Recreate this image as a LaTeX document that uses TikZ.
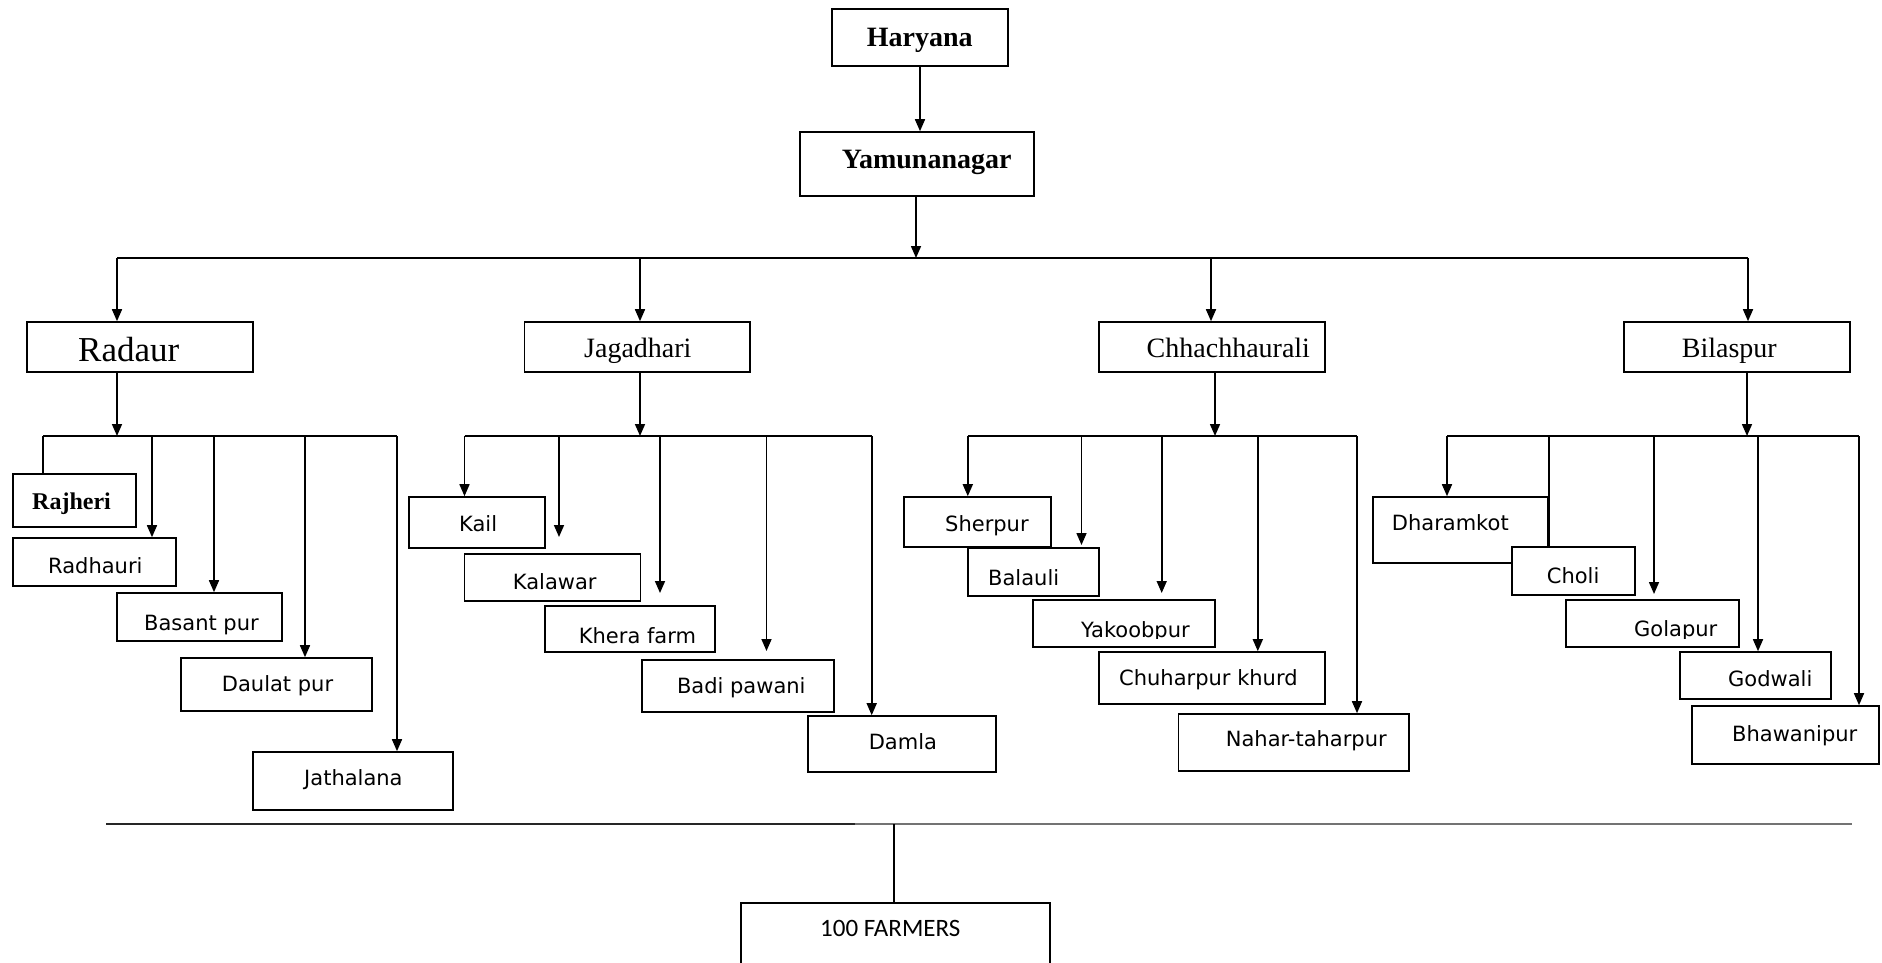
\documentclass[tikz,border=0pt]{standalone}
\usepackage{fontspec}
\setmainfont{Liberation Serif}
\newfontfamily\vsans{DejaVu Sans}
\newfontfamily\carl{Carlito}
\usetikzlibrary{arrows.meta}
\tikzset{
  ln/.style={line width=1.6pt},
  arr/.style={ln, -{Triangle[length=12pt,width=10pt]}},
  bx/.style={draw, line width=1.6pt, fill=white, inner sep=0pt, rectangle},
  dist/.style={anchor=base west, inner sep=0pt, font=\fontsize{28}{30}\selectfont},
  vil/.style={anchor=base west, inner sep=0pt, font=\vsans\fontsize{21}{24}\selectfont},
}
\newcommand\mkbox[5]{\node[bx, minimum width={(#4)-(#2)}, minimum height={(#5)-(#3)}] (#1) at ({((#2)+(#4))/2},{((#3)+(#5))/2}) {};}
\begin{document}
\begin{tikzpicture}[x=1pt,y=-1pt]
\useasboundingbox[fill=white] (0,0) rectangle (1882,962);
% ---------- boxes ----------
\mkbox{haryana}{832}{9}{1008}{66}
\mkbox{yamuna}{800}{132}{1034}{196}
\mkbox{radaur}{27}{322}{253}{372}
\mkbox{jagadhari}{524.5}{322}{750}{372}
\mkbox{chhach}{1099}{322}{1325}{372}
\mkbox{bilaspur}{1624}{322}{1850}{372}
% Radaur villages
\mkbox{rajheri}{13}{474}{136}{527}
\mkbox{radhauri}{13}{538}{176}{586}
\mkbox{basant}{117}{593}{282}{641}
\mkbox{daulat}{181}{658}{372}{711}
\mkbox{jathalana}{253}{752}{453}{810}
% Jagadhari villages
\mkbox{kail}{408.7}{497}{545}{548}
\mkbox{kalawar}{464.5}{554}{640.4}{601}
\mkbox{khera}{544.7}{606}{714.7}{652}
\mkbox{badi}{642}{660}{834}{712}
\mkbox{damla}{807.7}{716}{996}{772}
% Chhachhaurali villages
\mkbox{sherpur}{903.8}{497}{1051}{547}
\mkbox{balauli}{968}{548}{1099}{596}
\mkbox{yakoob}{1033}{600}{1215}{647}
\mkbox{chuhar}{1099}{652}{1325}{704}
\mkbox{nahar}{1178.6}{714}{1409}{771}
% Bilaspur villages
\mkbox{dharamkot}{1373}{497}{1548}{563}
\mkbox{choli}{1512}{547}{1635}{595}
\mkbox{golapur}{1566}{600}{1739}{647}
\mkbox{godwali}{1680}{652}{1831}{699}
\mkbox{bhawani}{1692}{706}{1879}{764}
% bottom
\mkbox{farmers}{741}{903}{1050}{975}
% ---------- texts ----------
\node[dist, font=\bfseries\fontsize{28}{30}\selectfont] (tharyana) at (866.7,46.7) {Haryana};
\node[dist, font=\bfseries\fontsize{28}{30}\selectfont] (tyamuna) at (841.7,168.3) {Yamunanagar};
\node[dist, font=\fontsize{35}{38}\selectfont] (tradaur) at (78,361.7) {Radaur};
\node[dist] (tjagadhari) at (584,357) {Jagadhari};
\node[dist] (tchhach) at (1146.5,357) {Chhachhaurali};
\node[dist] (tbilaspur) at (1681.7,357) {Bilaspur};
\node[dist, font=\bfseries\fontsize{24}{26}\selectfont] (trajheri) at (32,509) {Rajheri};
\node[vil] (tradhauri) at (48,573) {Radhauri};
\node[vil] (tbasant) at (144,630) {Basant pur};
\node[vil] (tdaulat) at (221.7,691.7) {Daulat pur};
\node[vil] (tjathalana) at (304,785.7) {Jathalana};
\node[vil] (tkail) at (459,531) {Kail};
\node[vil] (tkalawar) at (512.7,589) {Kalawar};
\node[vil] (tkhera) at (578.7,643.3) {Khera farm};
\node[vil] (tbadi) at (676.8,693) {Badi pawani};
\node[vil] (tdamla) at (868.6,749) {Damla};
\node[vil] (tsherpur) at (945,531) {Sherpur};
\node[vil] (tbalauli) at (988,585) {Balauli};
\begin{scope}
\clip (1033,600) rectangle (1215,638.5);
\node[vil] (tyakoob) at (1081,637.3) {Yakoobpur};
\end{scope}
\node[vil] (tchuhar) at (1119,685) {Chuharpur khurd};
\node[vil] (tnahar) at (1225.7,746.7) {Nahar-taharpur};
\node[vil] (tdharamkot) at (1391.7,530) {Dharamkot};
\node[vil] (tcholi) at (1546.7,583) {Choli};
\begin{scope}
\clip (1566,600) rectangle (1739,638);
\node[vil] (tgolapur) at (1634,636.7) {Golapur};
\end{scope}
\node[vil] (tgodwali) at (1728,686.7) {Godwali};
\node[vil] (tbhawani) at (1732,741.7) {Bhawanipur};
\node[anchor=base west, inner sep=0pt, font=\carl\fontsize{25}{28}\selectfont] (tfarmers) at (820,936) {100 FARMERS};
% ---------- top level ----------
\draw[arr] (haryana.south) -- (haryana.south |- yamuna.north);
\coordinate (tb0) at (117,258);
\coordinate (tb1) at (640,258);
\coordinate (tb2) at (1211,258);
\coordinate (tb3) at (1748,258);
\coordinate (tbm) at (916,258);
\draw[arr] (yamuna.south -| tbm) -- (tbm);
\draw[ln] (tb0) -- (tb3);
\draw[arr] (tb0) -- (tb0 |- radaur.north);
\draw[arr] (tb1) -- (tb1 |- jagadhari.north);
\draw[arr] (tb2) -- (tb2 |- chhach.north);
\draw[arr] (tb3) -- (tb3 |- bilaspur.north);
% ---------- Radaur ----------
\coordinate (ra) at (117,436);
\coordinate (r0) at (43,436);
\coordinate (r1) at (152,436);
\coordinate (r2) at (214,436);
\coordinate (r3) at (305,436);
\coordinate (r4) at (397,436);
\draw[arr] (radaur.south -| ra) -- (ra);
\draw[ln] (r0) -- (r4);
\draw[ln] (r0) -- (r0 |- rajheri.north);
\draw[arr] (r1) -- (r1 |- radhauri.north);
\draw[arr] (r2) -- (r2 |- basant.north);
\draw[arr] (r3) -- (r3 |- daulat.north);
\draw[arr] (r4) -- (r4 |- jathalana.north);
% ---------- Jagadhari ----------
\coordinate (ja) at (640,436);
\coordinate (j0) at (464.5,436);
\coordinate (j1) at (559,436);
\coordinate (j2) at (660,436);
\coordinate (j3) at (766.5,436);
\coordinate (j4) at (871.7,436);
\coordinate (j1t) at (559,537);
\coordinate (j2t) at (660,593);
\coordinate (j3t) at (766.5,651);
\draw[arr] (jagadhari.south -| ja) -- (ja);
\draw[ln] (j0) -- (j4);
\draw[arr] (j0) -- (j0 |- kail.north);
\draw[arr] (j1) -- (j1t);
\draw[arr] (j2) -- (j2t);
\draw[arr] (j3) -- (j3t);
\draw[arr] (j4) -- (j4 |- damla.north);
% ---------- Chhachhaurali ----------
\coordinate (ca) at (1215,436);
\coordinate (c0) at (967.8,436);
\coordinate (c1) at (1081.5,436);
\coordinate (c2) at (1161.7,436);
\coordinate (c3) at (1257.8,436);
\coordinate (c4) at (1357,436);
\coordinate (c1t) at (1081.5,545);
\coordinate (c2t) at (1161.7,593);
\draw[arr] (chhach.south -| ca) -- (ca);
\draw[ln] (c0) -- (c4);
\draw[arr] (c0) -- (c0 |- sherpur.north);
\draw[arr] (c1) -- (c1t);
\draw[arr] (c2) -- (c2t);
\draw[arr] (c3) -- (c3 |- chuhar.north);
\draw[arr] (c4) -- (c4 |- nahar.north);
% ---------- Bilaspur ----------
\coordinate (ba) at (1747,436);
\coordinate (b0) at (1447,436);
\coordinate (b1) at (1549,436);
\coordinate (b2) at (1654,436);
\coordinate (b3) at (1758,436);
\coordinate (b4) at (1859,436);
\coordinate (b2t) at (1654,594);
\draw[arr] (bilaspur.south -| ba) -- (ba);
\draw[ln] (b0) -- (b4);
\draw[arr] (b0) -- (b0 |- dharamkot.north);
\draw[ln] (b1) -- (b1 |- choli.north);
\draw[arr] (b2) -- (b2t);
\draw[arr] (b3) -- (b3 |- godwali.north);
\draw[arr] (b4) -- (b4 |- bhawani.north);
% ---------- bottom ----------
\coordinate (bl0) at (106,824);
\coordinate (blm) at (855,824);
\coordinate (bl1) at (1852,824);
\coordinate (bf) at (894,824);
\draw[line width=2.5pt, black!85] (bl0) -- (blm);
\draw[line width=2.5pt, black!55] (blm) -- (bl1);
\draw[line width=1.2pt] (bf) -- (bf |- farmers.north);
\end{tikzpicture}
\end{document}
